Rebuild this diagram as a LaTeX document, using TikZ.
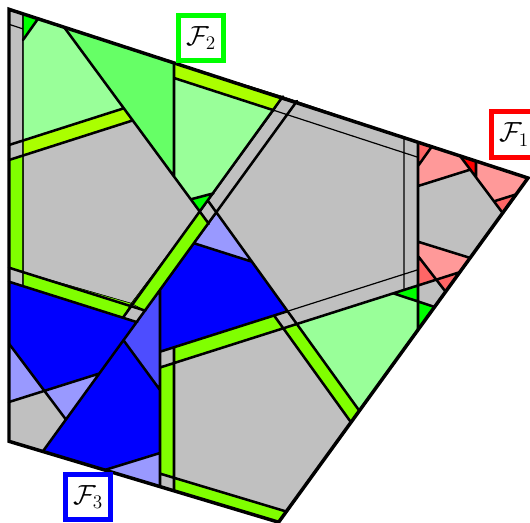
\documentclass[tikz,border=0pt]{standalone}
\usepackage{amsmath}
\definecolor{grY}{HTML}{C0C0C0}
\definecolor{lgn}{HTML}{99FF99}
\definecolor{mgn}{HTML}{66FF66}
\definecolor{bgn}{HTML}{00FF00}
\definecolor{ylw}{HTML}{AAFF00}
\definecolor{lim}{HTML}{80FF00}
\definecolor{dbl}{HTML}{0000FF}
\definecolor{mbl}{HTML}{4D4DFF}
\definecolor{lbl}{HTML}{9999FF}
\definecolor{drd}{HTML}{FF0000}
\definecolor{mrd}{HTML}{FF6666}
\definecolor{lrd}{HTML}{FF9999}
\begin{document}
\begin{tikzpicture}[x=0.75pt,y=-0.75pt,
  reg/.style={draw=black,line width=0.4pt,line join=round},
  thk/.style={line width=1.9pt,line cap=round},
  thn/.style={line width=0.9pt},
  lab/.style={draw=#1,line width=3.75pt,fill=white,minimum width=34pt,minimum height=34pt,inner sep=0pt,font=\fontsize{20}{22}\selectfont}]
\useasboundingbox (0,0) rectangle (530,522);
% outer
\coordinate (O1) at (9,9.3); \coordinate (O2) at (528,178);
\coordinate (O3) at (278.6,522.2); \coordinate (O4) at (9,441.3);
% top-left
\coordinate (a1) at (23,13.9); \coordinate (a2) at (38,18.8); \coordinate (a3) at (23,40);
\coordinate (a4) at (64.2,27.3); \coordinate (a5) at (123.8,108.3); \coordinate (a6) at (132.8,120.4);
\coordinate (a7) at (23,140.5); \coordinate (a8) at (23,155.5); \coordinate (a9) at (9,145);
\coordinate (a10) at (9,160); \coordinate (a11) at (174,176.5); \coordinate (a12) at (174,63);
\coordinate (a13) at (174,78); \coordinate (a14) at (282.9,96.4); \coordinate (a15) at (297,101);
\coordinate (a16) at (274.1,110.4); \coordinate (a17) at (288.2,115.1);
\coordinate (a18) at (213.6,193.3); \coordinate (a19) at (190.8,199.3);
\coordinate (t1) at (9,24.3); \coordinate (t2) at (23,28.9);
\coordinate (d1) at (200.1,211.9); \coordinate (d2) at (208.1,200.9);
\coordinate (d3) at (216.8,212.9); \coordinate (d4) at (208.8,223.8);
% left
\coordinate (b1) at (23,272.1); \coordinate (b2) at (9,267.7); \coordinate (b3) at (131.2,303.3);
\coordinate (b4) at (145.4,310.7); \coordinate (b5) at (122.9,317.7); \coordinate (b6) at (137.1,322.2);
\coordinate (b7) at (23,286.1); \coordinate (b8) at (9,281.7);
% blue
\coordinate (c1) at (194.5,243.4); \coordinate (c2) at (252,261.7); \coordinate (c3) at (287.6,311.2);
\coordinate (c4) at (160,351.7); \coordinate (c5) at (160,290.7); \coordinate (c6) at (123.7,340.5);
\coordinate (c7) at (160,390); \coordinate (c8) at (99.7,373.4); \coordinate (c9) at (44.5,390.9);
\coordinate (c10) at (9,343.7); \coordinate (c11) at (9,402); \coordinate (c12) at (66,419.6);
\coordinate (c13) at (42.8,451.4); \coordinate (c14) at (160,453); \coordinate (c15) at (104.8,470);
\coordinate (c16) at (160,486.6);
% lower centre
\coordinate (e1) at (174,347.2); \coordinate (e2) at (174,363.1); \coordinate (e3) at (160,367.5);
\coordinate (e4) at (274,315.4); \coordinate (e5) at (283.3,328.3); \coordinate (e6) at (296.8,324);
\coordinate (e7) at (359.3,410.7); \coordinate (e8) at (351,422.3); \coordinate (e9) at (160,473.6);
\coordinate (e10) at (174,477.8); \coordinate (e11) at (174,490.8); \coordinate (e12) at (286.3,511.5);
% right
\coordinate (f1) at (418,142.3); \coordinate (f2) at (418,285.5); \coordinate (f3) at (393.3,293.3);
\coordinate (f4) at (418,301.5); \coordinate (f5) at (434.7,307); \coordinate (f6) at (418,329.8);
\coordinate (g1) at (404,137.7); \coordinate (g2) at (404,289.9); \coordinate (g3) at (418,157.3);
\coordinate (g4) at (418,269.7);
\coordinate (h1) at (431.7,146.7); \coordinate (h2) at (418,166); \coordinate (h3) at (460,155.9);
\coordinate (h4) at (470.3,169.6); \coordinate (h5) at (418,186); \coordinate (h6) at (476,161.1);
\coordinate (h7) at (476,177.3); \coordinate (h8) at (494,201.3); \coordinate (h9) at (516.1,194.4);
\coordinate (h10) at (502.6,212.9); \coordinate (h11) at (470.1,257.9); \coordinate (h12) at (418,241.7);
\coordinate (k1) at (459.7,272.2); \coordinate (k2) at (445.6,291.7); \coordinate (k3) at (436.3,279.7);
\coordinate (k4) at (418,256);
% ---------- fills
\filldraw[reg,fill=grY] (O1)--(a1)--(a7)--(a9)--cycle;
\filldraw[reg,fill=grY] (a9)--(a7)--(a8)--(a10)--cycle;
\filldraw[reg,fill=grY] (a8)--(a6)--(d1)--(b3)--(b1)--cycle;
\filldraw[reg,fill=grY] (b2)--(b1)--(b7)--(b8)--cycle;
\filldraw[reg,fill=grY] (b3)--(b4)--(b6)--(b5)--cycle;
\filldraw[reg,fill=grY] (a14)--(f1)--(f2)--(e6)--(d3)--(d4)--(d1)--cycle;
\filldraw[reg,fill=grY] (e4)--(c3)--(e6)--(e5)--cycle;
\filldraw[reg,fill=grY] (c4)--(e1)--(e2)--(e3)--cycle;
\filldraw[reg,fill=grY] (e2)--(e5)--(e8)--(e12)--(e10)--cycle;
\filldraw[reg,fill=grY] (e9)--(e10)--(e11)--(c16)--cycle;
\filldraw[reg,fill=grY] (c11)--(c9)--(c12)--(c13)--(O4)--cycle;
\filldraw[reg,fill=grY] (h5)--(h4)--(h10)--(h11)--(h12)--cycle;
\filldraw[reg,fill=grY] (f2)--(k3)--(k2)--(f5)--(f4)--cycle;
\filldraw[reg,fill=lgn] (a3)--(a2)--(a4)--(a5)--(a7)--cycle;
\filldraw[reg,fill=lgn] (a13)--(a16)--(a18)--(a19)--(a11)--cycle;
\filldraw[reg,fill=lgn] (e6)--(f3)--(f4)--(f6)--(e7)--cycle;
\filldraw[reg,fill=mgn] (a4)--(a12)--(a11)--cycle;
\filldraw[reg,fill=bgn] (a1)--(a2)--(a3)--cycle;
\filldraw[reg,fill=bgn] (a18)--(d1)--(a19)--cycle;
\filldraw[reg,fill=bgn] (f3)--(f2)--(f4)--cycle;
\filldraw[reg,fill=bgn] (f4)--(f5)--(f6)--cycle;
\filldraw[reg,fill=ylw] (a7)--(a5)--(a6)--(a8)--cycle;
\filldraw[reg,fill=ylw] (a12)--(a14)--(a16)--(a13)--cycle;
\filldraw[reg,fill=lim] (a10)--(a8)--(b1)--(b2)--cycle;
\filldraw[reg,fill=lim] (b1)--(b3)--(b5)--(b7)--cycle;
\filldraw[reg,fill=lim] (d1)--(d4)--(b4)--(b3)--cycle;
\filldraw[reg,fill=lim] (e1)--(e4)--(e5)--(e2)--cycle;
\filldraw[reg,fill=lim] (e5)--(e6)--(e7)--(e8)--cycle;
\filldraw[reg,fill=lim] (e3)--(e2)--(e10)--(e9)--cycle;
\filldraw[reg,fill=lim] (e10)--(e12)--(O3)--(e11)--cycle;
\filldraw[reg,fill=lbl] (d3)--(c1)--(c2)--cycle;
\filldraw[reg,fill=dbl] (c1)--(c2)--(c3)--(c4)--(c5)--cycle;
\filldraw[reg,fill=mbl] (c5)--(c6)--(c7)--cycle;
\filldraw[reg,fill=dbl] (b8)--(b6)--(c8)--(c9)--(c10)--cycle;
\filldraw[reg,fill=lbl] (c10)--(c9)--(c11)--cycle;
\filldraw[reg,fill=lbl] (c9)--(c8)--(c12)--cycle;
\filldraw[reg,fill=dbl] (c6)--(c7)--(c14)--(c15)--(c13)--cycle;
\filldraw[reg,fill=lbl] (c15)--(c14)--(c16)--cycle;
\filldraw[reg,fill=mrd] (f1)--(h1)--(h2)--cycle;
\filldraw[reg,fill=lrd] (h1)--(h3)--(h4)--(h5)--(h2)--cycle;
\filldraw[reg,fill=drd] (h3)--(h6)--(h7)--cycle;
\filldraw[reg,fill=lrd] (h6)--(O2)--(h9)--(h8)--(h7)--cycle;
\filldraw[reg,fill=mrd] (h8)--(h9)--(h10)--cycle;
\filldraw[reg,fill=lrd] (h12)--(h11)--(k1)--(k3)--(k4)--cycle;
\filldraw[reg,fill=mrd] (k4)--(k3)--(f2)--cycle;
\filldraw[reg,fill=mrd] (k3)--(k1)--(k2)--cycle;
% ---------- lines
\draw[thn] (a1)--(b7) (t1)--(t2) (a16)--(g3) (g1)--(g2) (c3)--(g4);
\draw[thk] (a4)--(d4) (d2)--(e7) (a14)--(b5) (a15)--(c13) (a2)--(a3)
  (a9)--(a5) (a10)--(a6) (a12)--(a11) (a13)--(a16) (a18)--(a19)
  (b2)--(b4) (b8)--(b6) (c1)--(c2) (c4)--(c3) (e3)--(k1)
  (c5)--(c16) (e1)--(e11) (c6)--(c7) (c10)--(c12) (c11)--(c8) (c15)--(c14)
  (e4)--(e8) (e9)--(e12) (f1)--(f6) (f3)--(f5)
  (h1)--(h2) (h3)--(h10) (h6)--(h7) (h5)--(h4) (h8)--(h9) (h12)--(h11) (k2)--(k4);
\draw[line width=2.6pt,line join=miter] (O1)--(O2)--(O3)--(O4)--cycle;
% labels
\node[lab=red] (F1) at (514,134.5) {$\mathcal{F}_1$};
\node[lab=green] (F2) at (201,38) {$\mathcal{F}_2$};
\node[lab=blue] (F3) at (88,497) {$\mathcal{F}_3$};
\end{tikzpicture}
\end{document}
